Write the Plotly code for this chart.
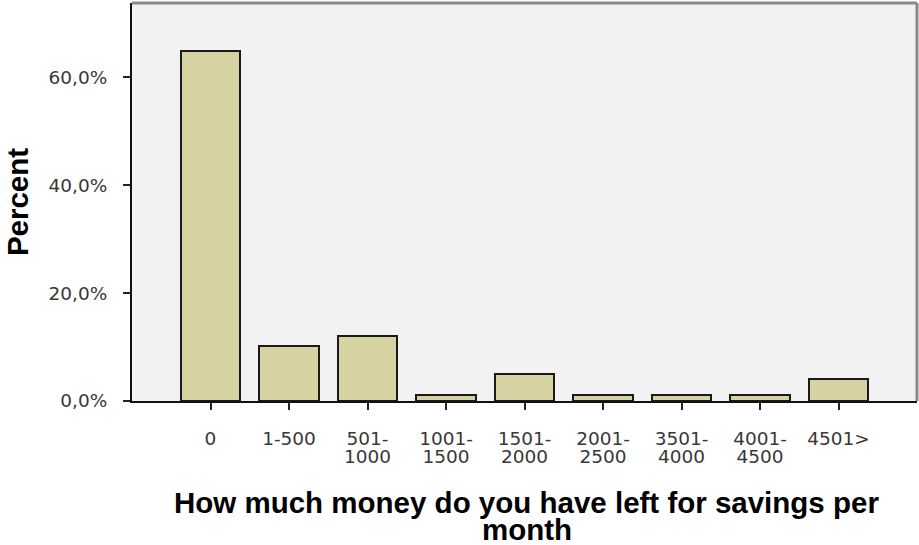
import plotly.graph_objects as go

categories = ["0", "1-500", "501-1000", "1001-1500", "1501-2000",
              "2001-2500", "3501-4000", "4001-4500", "4501>"]
label_line1 = ["0", "1-500", "501-", "1001-", "1501-", "2001-", "3501-", "4001-", "4501>"]
label_line2 = ["", "", "1000", "1500", "2000", "2500", "4000", "4500", ""]
percent = [64.9, 10.2, 12.1, 1.1, 5.1, 1.1, 1.1, 1.1, 4.0]
y_ticks = [0, 20, 40, 60]
y_tick_text = ["0,0%", "20,0%", "40,0%", "60,0%"]
x_title_line1 = "How much money do you have left for savings per"
x_title_line2 = "month"
y_title = "Percent"

idx = list(range(len(categories)))

W, H = 919, 545
ml, mr, mt, mb = 132, 2, 3, 144
plot_h = H - mt - mb

tick_font = dict(family="DejaVu Sans", size=18.5, color="#383838")
title_font = dict(family="Liberation Sans", size=29.5, color="#000000")

fig = go.Figure()
fig.add_trace(go.Bar(
    x=idx, y=percent, width=0.76,
    marker=dict(color="#D7D2A1", line=dict(color="#1a1a1a", width=2)),
    hovertext=categories, hoverinfo="text+y",
))
# helper trace to carry second line of category labels
fig.add_trace(go.Scatter(
    x=idx, y=percent, xaxis="x2", mode="markers",
    marker=dict(opacity=0), hoverinfo="skip", showlegend=False,
))

fig.update_layout(
    width=W, height=H,
    margin=dict(l=ml, r=mr, t=mt, b=mb),
    paper_bgcolor="white", plot_bgcolor="#F2F2F2",
    showlegend=False, bargap=0,
    xaxis=dict(
        range=[-1, len(categories)], tickmode="array", tickvals=idx,
        ticktext=label_line1, ticks="outside", ticklen=7, tickwidth=2,
        tickcolor="#222222", showline=True, linecolor="#111111", linewidth=2,
        showgrid=False, zeroline=False, tickfont=tick_font,
        ticklabelstandoff=13,
    ),
    xaxis2=dict(
        overlaying="x", matches="x", side="bottom", anchor="y",
        tickmode="array", tickvals=idx, ticktext=label_line2,
        ticks="", showline=False, showgrid=False, zeroline=False,
        tickfont=tick_font, ticklabelstandoff=42,
    ),
    yaxis=dict(
        range=[0, 73.8], tickmode="array", tickvals=y_ticks,
        ticktext=y_tick_text, ticks="outside", ticklen=7, tickwidth=2,
        tickcolor="#222222", showline=True, linecolor="#111111", linewidth=2,
        showgrid=False, zeroline=False, tickfont=tick_font,
        ticklabelstandoff=12,
        title=dict(text="<b>%s</b>" % y_title, font=title_font, standoff=11),
    ),
    shapes=[
        dict(type="line", xref="paper", yref="paper", x0=0, x1=1, y0=1, y1=1,
             line=dict(color="#8a8a8a", width=3)),
        dict(type="line", xref="paper", yref="paper", x0=1, x1=1, y0=0, y1=1,
             line=dict(color="#8a8a8a", width=3)),
    ],
    annotations=[
        dict(text="<b>%s</b>" % x_title_line1, xref="paper", yref="paper",
             x=0.503, y=-(502.5 - (H - mb)) / plot_h, yanchor="middle",
             showarrow=False, font=title_font),
        dict(text="<b>%s</b>" % x_title_line2, xref="paper", yref="paper",
             x=0.503, y=-(529.5 - (H - mb)) / plot_h, yanchor="middle",
             showarrow=False, font=title_font),
    ],
)

fig.write_html("out.html", config={"displayModeBar": False},
               post_script="document.body.style.margin='0';")
